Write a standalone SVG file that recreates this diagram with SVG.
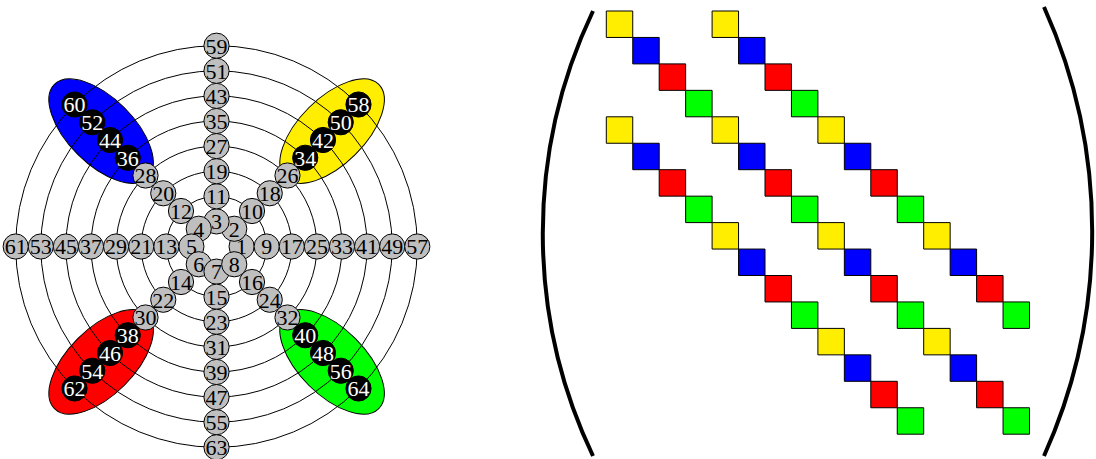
<svg xmlns="http://www.w3.org/2000/svg" width="1096" height="459" viewBox="0 0 1096 459">
<style>
.ring{fill:none;stroke:#000;stroke-width:1}
.n circle{fill:#bfbfbf;stroke:#000;stroke-width:1}
.d circle{fill:#000;stroke:#000;stroke-width:1}
text{font-family:"Liberation Serif","DejaVu Serif",serif;font-size:22px;text-anchor:middle}
.n text{fill:#000}
.d text{fill:#fff}
.el{stroke:#000;stroke-width:1}
.sq rect{stroke:#000;stroke-width:1;vector-effect:non-scaling-stroke}
.Y{fill:#ffee00}.B{fill:#0000ff}.R{fill:#ff0000}.G{fill:#00ff00}
.par{fill:none;stroke:#000;stroke-width:4;stroke-linecap:butt}
</style>
<rect width="1096" height="459" fill="#fff"/>
<g id="polar" transform="translate(216.5,246.5)">
<g id="ellipses">
<ellipse id="e-yellow" class="el" cx="0" cy="0" rx="66" ry="33" fill="#ffee00" transform="translate(115.6,-115.4) rotate(-45)"/>
<ellipse id="e-blue" class="el" cx="0" cy="0" rx="66" ry="33" fill="#0000ff" transform="translate(-115.4,-115.4) rotate(45)"/>
<ellipse id="e-red" class="el" cx="0" cy="0" rx="66" ry="33" fill="#ff0000" transform="translate(-115.4,115.4) rotate(-45)"/>
<ellipse id="e-green" class="el" cx="0" cy="0" rx="66" ry="33" fill="#00ff00" transform="translate(115.6,115.4) rotate(45)"/>
</g>
<g id="rings">
<circle class="ring" r="25.1"/><circle class="ring" r="50.2"/><circle class="ring" r="75.3"/><circle class="ring" r="100.4"/>
<circle class="ring" r="125.5"/><circle class="ring" r="150.6"/><circle class="ring" r="175.7"/><circle class="ring" r="200.8"/>
</g>
<g id="n1" class="n"><circle cx="25.1" cy="0" r="12.6"/><text x="25.1" y="7.8">1</text></g>
<g id="n2" class="n"><circle cx="17.75" cy="-17.75" r="12.6"/><text x="17.75" y="-9.95">2</text></g>
<g id="n3" class="n"><circle cx="0" cy="-25.1" r="12.6"/><text x="0" y="-17.3">3</text></g>
<g id="n4" class="n"><circle cx="-17.75" cy="-17.75" r="12.6"/><text x="-17.75" y="-9.95">4</text></g>
<g id="n5" class="n"><circle cx="-25.1" cy="0" r="12.6"/><text x="-25.1" y="7.8">5</text></g>
<g id="n6" class="n"><circle cx="-17.75" cy="17.75" r="12.6"/><text x="-17.75" y="25.55">6</text></g>
<g id="n7" class="n"><circle cx="0" cy="25.1" r="12.6"/><text x="0" y="32.9">7</text></g>
<g id="n8" class="n"><circle cx="17.75" cy="17.75" r="12.6"/><text x="17.75" y="25.55">8</text></g>
<g id="n9" class="n"><circle cx="50.2" cy="0" r="12.6"/><text x="50.2" y="7.8">9</text></g>
<g id="n10" class="n"><circle cx="35.5" cy="-35.5" r="12.6"/><text x="35.5" y="-27.7">10</text></g>
<g id="n11" class="n"><circle cx="0" cy="-50.2" r="12.6"/><text x="0" y="-42.4">11</text></g>
<g id="n12" class="n"><circle cx="-35.5" cy="-35.5" r="12.6"/><text x="-35.5" y="-27.7">12</text></g>
<g id="n13" class="n"><circle cx="-50.2" cy="0" r="12.6"/><text x="-50.2" y="7.8">13</text></g>
<g id="n14" class="n"><circle cx="-35.5" cy="35.5" r="12.6"/><text x="-35.5" y="43.3">14</text></g>
<g id="n15" class="n"><circle cx="0" cy="50.2" r="12.6"/><text x="0" y="58">15</text></g>
<g id="n16" class="n"><circle cx="35.5" cy="35.5" r="12.6"/><text x="35.5" y="43.3">16</text></g>
<g id="n17" class="n"><circle cx="75.3" cy="0" r="12.6"/><text x="75.3" y="7.8">17</text></g>
<g id="n18" class="n"><circle cx="53.24" cy="-53.24" r="12.6"/><text x="53.24" y="-45.44">18</text></g>
<g id="n19" class="n"><circle cx="0" cy="-75.3" r="12.6"/><text x="0" y="-67.5">19</text></g>
<g id="n20" class="n"><circle cx="-53.24" cy="-53.24" r="12.6"/><text x="-53.24" y="-45.44">20</text></g>
<g id="n21" class="n"><circle cx="-75.3" cy="0" r="12.6"/><text x="-75.3" y="7.8">21</text></g>
<g id="n22" class="n"><circle cx="-53.24" cy="53.24" r="12.6"/><text x="-53.24" y="61.04">22</text></g>
<g id="n23" class="n"><circle cx="0" cy="75.3" r="12.6"/><text x="0" y="83.1">23</text></g>
<g id="n24" class="n"><circle cx="53.24" cy="53.24" r="12.6"/><text x="53.24" y="61.04">24</text></g>
<g id="n25" class="n"><circle cx="100.4" cy="0" r="12.6"/><text x="100.4" y="7.8">25</text></g>
<g id="n26" class="n"><circle cx="70.99" cy="-70.99" r="12.6"/><text x="70.99" y="-63.19">26</text></g>
<g id="n27" class="n"><circle cx="0" cy="-100.4" r="12.6"/><text x="0" y="-92.6">27</text></g>
<g id="n28" class="n"><circle cx="-70.99" cy="-70.99" r="12.6"/><text x="-70.99" y="-63.19">28</text></g>
<g id="n29" class="n"><circle cx="-100.4" cy="0" r="12.6"/><text x="-100.4" y="7.8">29</text></g>
<g id="n30" class="n"><circle cx="-70.99" cy="70.99" r="12.6"/><text x="-70.99" y="78.79">30</text></g>
<g id="n31" class="n"><circle cx="0" cy="100.4" r="12.6"/><text x="0" y="108.2">31</text></g>
<g id="n32" class="n"><circle cx="70.99" cy="70.99" r="12.6"/><text x="70.99" y="78.79">32</text></g>
<g id="n33" class="n"><circle cx="125.5" cy="0" r="12.6"/><text x="125.5" y="7.8">33</text></g>
<g id="n34" class="d"><circle cx="88.74" cy="-88.74" r="12.6"/><text x="88.74" y="-80.94">34</text></g>
<g id="n35" class="n"><circle cx="0" cy="-125.5" r="12.6"/><text x="0" y="-117.7">35</text></g>
<g id="n36" class="d"><circle cx="-88.74" cy="-88.74" r="12.6"/><text x="-88.74" y="-80.94">36</text></g>
<g id="n37" class="n"><circle cx="-125.5" cy="0" r="12.6"/><text x="-125.5" y="7.8">37</text></g>
<g id="n38" class="d"><circle cx="-88.74" cy="88.74" r="12.6"/><text x="-88.74" y="96.54">38</text></g>
<g id="n39" class="n"><circle cx="0" cy="125.5" r="12.6"/><text x="0" y="133.3">39</text></g>
<g id="n40" class="d"><circle cx="88.74" cy="88.74" r="12.6"/><text x="88.74" y="96.54">40</text></g>
<g id="n41" class="n"><circle cx="150.6" cy="0" r="12.6"/><text x="150.6" y="7.8">41</text></g>
<g id="n42" class="d"><circle cx="106.49" cy="-106.49" r="12.6"/><text x="106.49" y="-98.69">42</text></g>
<g id="n43" class="n"><circle cx="0" cy="-150.6" r="12.6"/><text x="0" y="-142.8">43</text></g>
<g id="n44" class="d"><circle cx="-106.49" cy="-106.49" r="12.6"/><text x="-106.49" y="-98.69">44</text></g>
<g id="n45" class="n"><circle cx="-150.6" cy="0" r="12.6"/><text x="-150.6" y="7.8">45</text></g>
<g id="n46" class="d"><circle cx="-106.49" cy="106.49" r="12.6"/><text x="-106.49" y="114.29">46</text></g>
<g id="n47" class="n"><circle cx="0" cy="150.6" r="12.6"/><text x="0" y="158.4">47</text></g>
<g id="n48" class="d"><circle cx="106.49" cy="106.49" r="12.6"/><text x="106.49" y="114.29">48</text></g>
<g id="n49" class="n"><circle cx="175.7" cy="0" r="12.6"/><text x="175.7" y="7.8">49</text></g>
<g id="n50" class="d"><circle cx="124.24" cy="-124.24" r="12.6"/><text x="124.24" y="-116.44">50</text></g>
<g id="n51" class="n"><circle cx="0" cy="-175.7" r="12.6"/><text x="0" y="-167.9">51</text></g>
<g id="n52" class="d"><circle cx="-124.24" cy="-124.24" r="12.6"/><text x="-124.24" y="-116.44">52</text></g>
<g id="n53" class="n"><circle cx="-175.7" cy="0" r="12.6"/><text x="-175.7" y="7.8">53</text></g>
<g id="n54" class="d"><circle cx="-124.24" cy="124.24" r="12.6"/><text x="-124.24" y="132.04">54</text></g>
<g id="n55" class="n"><circle cx="0" cy="175.7" r="12.6"/><text x="0" y="183.5">55</text></g>
<g id="n56" class="d"><circle cx="124.24" cy="124.24" r="12.6"/><text x="124.24" y="132.04">56</text></g>
<g id="n57" class="n"><circle cx="200.8" cy="0" r="12.6"/><text x="200.8" y="7.8">57</text></g>
<g id="n58" class="d"><circle cx="141.99" cy="-141.99" r="12.6"/><text x="141.99" y="-134.19">58</text></g>
<g id="n59" class="n"><circle cx="0" cy="-200.8" r="12.6"/><text x="0" y="-193">59</text></g>
<g id="n60" class="d"><circle cx="-141.99" cy="-141.99" r="12.6"/><text x="-141.99" y="-134.19">60</text></g>
<g id="n61" class="n"><circle cx="-200.8" cy="0" r="12.6"/><text x="-200.8" y="7.8">61</text></g>
<g id="n62" class="d"><circle cx="-141.99" cy="141.99" r="12.6"/><text x="-141.99" y="149.79">62</text></g>
<g id="n63" class="n"><circle cx="0" cy="200.8" r="12.6"/><text x="0" y="208.6">63</text></g>
<g id="n64" class="d"><circle cx="141.99" cy="141.99" r="12.6"/><text x="141.99" y="149.79">64</text></g>
</g>
<g id="matrix">
<path id="paren-left" class="par" d="M 593 11 A 518 518 0 0 0 593 456"/>
<path id="paren-right" class="par" d="M 1044 7 A 547 547 0 0 1 1044 456"/>
<g id="squares" class="sq" transform="translate(606.3,11) scale(26.45)">
<rect class="Y" x="0" y="0" width="1" height="1"/><rect class="B" x="1" y="1" width="1" height="1"/><rect class="R" x="2" y="2" width="1" height="1"/><rect class="G" x="3" y="3" width="1" height="1"/>
<rect class="Y" x="4" y="0" width="1" height="1"/><rect class="B" x="5" y="1" width="1" height="1"/><rect class="R" x="6" y="2" width="1" height="1"/><rect class="G" x="7" y="3" width="1" height="1"/>
<rect class="Y" x="8" y="4" width="1" height="1"/><rect class="B" x="9" y="5" width="1" height="1"/><rect class="R" x="10" y="6" width="1" height="1"/><rect class="G" x="11" y="7" width="1" height="1"/>
<rect class="Y" x="12" y="8" width="1" height="1"/><rect class="B" x="13" y="9" width="1" height="1"/><rect class="R" x="14" y="10" width="1" height="1"/><rect class="G" x="15" y="11" width="1" height="1"/>
<rect class="Y" x="0" y="4" width="1" height="1"/><rect class="B" x="1" y="5" width="1" height="1"/><rect class="R" x="2" y="6" width="1" height="1"/><rect class="G" x="3" y="7" width="1" height="1"/>
<rect class="Y" x="4" y="8" width="1" height="1"/><rect class="B" x="5" y="9" width="1" height="1"/><rect class="R" x="6" y="10" width="1" height="1"/><rect class="G" x="7" y="11" width="1" height="1"/>
<rect class="Y" x="8" y="12" width="1" height="1"/><rect class="B" x="9" y="13" width="1" height="1"/><rect class="R" x="10" y="14" width="1" height="1"/><rect class="G" x="11" y="15" width="1" height="1"/>
<rect class="Y" x="4" y="4" width="1" height="1"/><rect class="B" x="5" y="5" width="1" height="1"/><rect class="R" x="6" y="6" width="1" height="1"/><rect class="G" x="7" y="7" width="1" height="1"/>
<rect class="Y" x="8" y="8" width="1" height="1"/><rect class="B" x="9" y="9" width="1" height="1"/><rect class="R" x="10" y="10" width="1" height="1"/><rect class="G" x="11" y="11" width="1" height="1"/>
<rect class="Y" x="12" y="12" width="1" height="1"/><rect class="B" x="13" y="13" width="1" height="1"/><rect class="R" x="14" y="14" width="1" height="1"/><rect class="G" x="15" y="15" width="1" height="1"/>
</g>
</g>
</svg>
